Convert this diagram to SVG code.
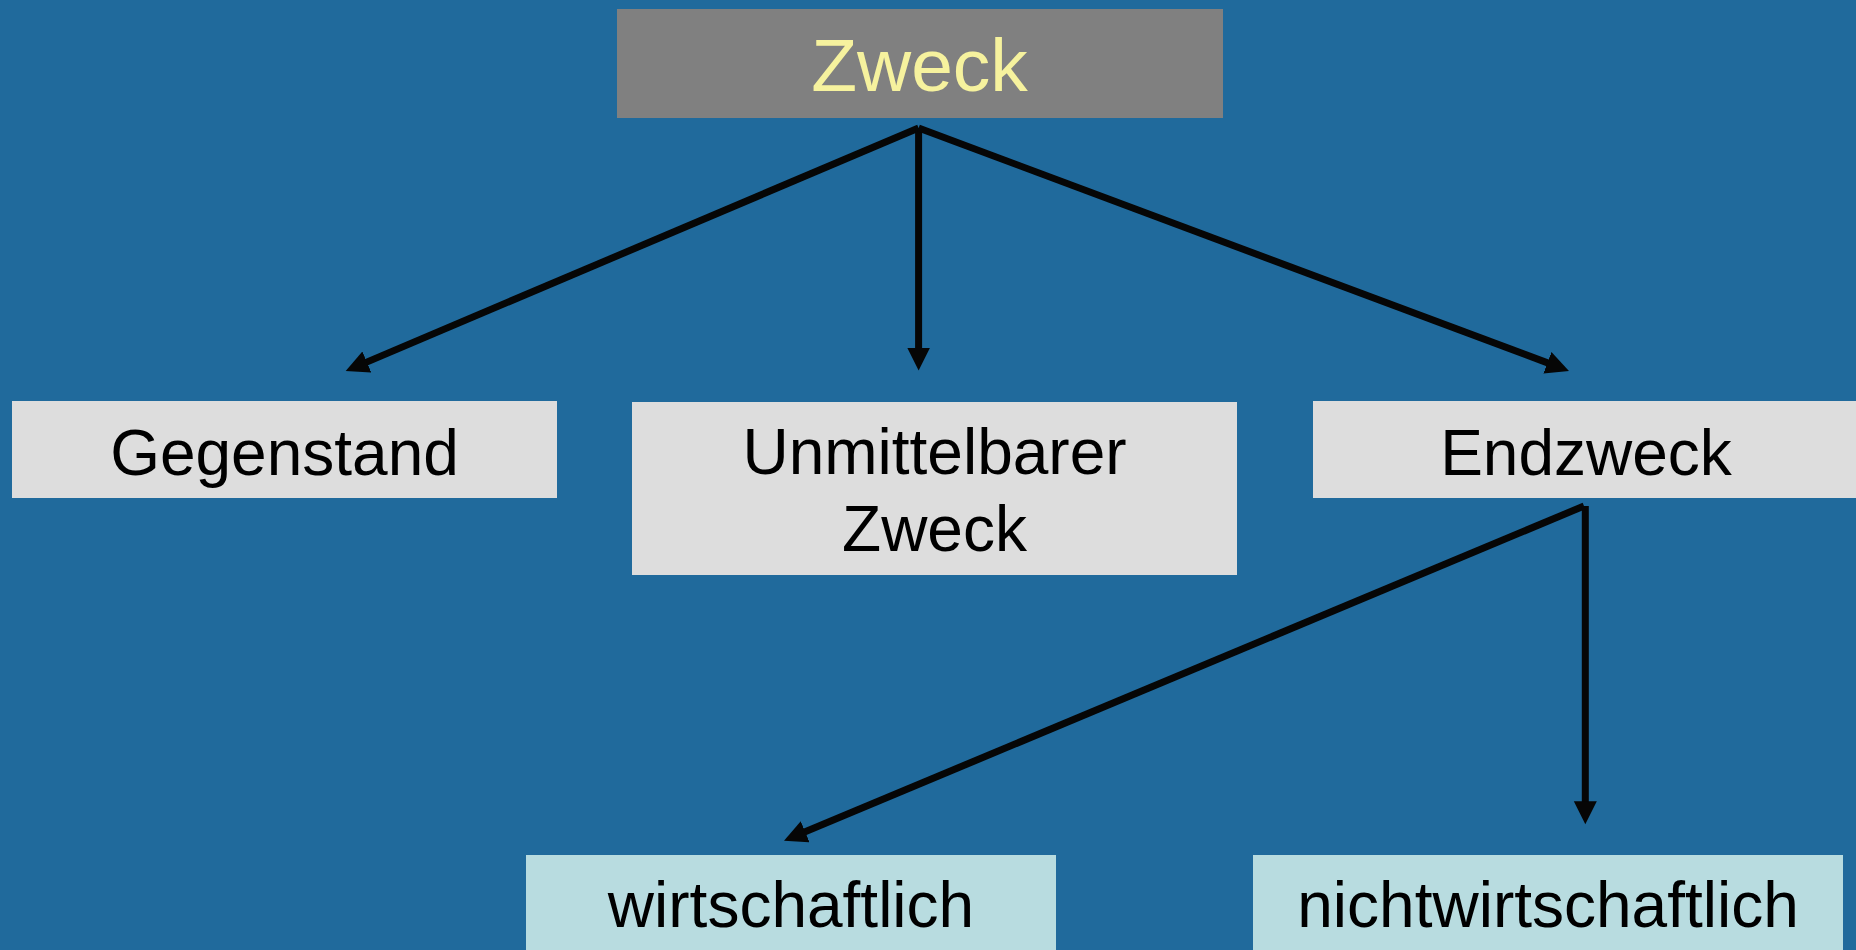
<svg xmlns="http://www.w3.org/2000/svg" width="1856" height="950" viewBox="0 0 1856 950">
  <style>
    .t { font-family: "Liberation Sans", Arial, sans-serif; font-size: 64px; fill: #000; text-anchor: middle; }
    .top { font-size: 75px; fill: #f6f29e; }
    .grey { fill: #dddddd; }
    .blue { fill: #b8dce0; }
    .c { stroke: #060606; stroke-width: 7; fill: none; marker-end: url(#ah); }
  </style>
  <defs>
    <marker id="ah" markerUnits="userSpaceOnUse" markerWidth="24" markerHeight="24" refX="13" refY="11.5" orient="auto">
      <path d="M0,0 L23,11.5 L0,23 z" fill="#060606"/>
    </marker>
  </defs>
  <rect width="1856" height="950" fill="#206a9c"/>

  <g id="connectors">
    <line class="c" x1="918.6" y1="128" x2="354.9" y2="367.1"/>
    <line class="c" x1="918.6" y1="128" x2="918.6" y2="360.5"/>
    <line class="c" x1="918.6" y1="128" x2="1559.6" y2="367.4"/>
    <line class="c" x1="1584" y1="506" x2="793.2" y2="836.8"/>
    <line class="c" x1="1585.3" y1="506" x2="1585.3" y2="814.3"/>
  </g>

  <g id="n-zweck">
    <rect x="617" y="9" width="606" height="109" fill="#808080"/>
    <text class="t top" x="919.5" y="91">Zweck</text>
  </g>
  <g id="n-gegenstand">
    <rect class="grey" x="12" y="401" width="545" height="97"/>
    <text class="t" x="284.5" y="475">Gegenstand</text>
  </g>
  <g id="n-unmittelbarer">
    <rect class="grey" x="632" y="402" width="605" height="173"/>
    <text class="t" x="934.5" y="474">Unmittelbarer</text>
    <text class="t" x="934.5" y="550.5">Zweck</text>
  </g>
  <g id="n-endzweck">
    <rect class="grey" x="1313" y="401" width="545" height="97"/>
    <text class="t" x="1586" y="475">Endzweck</text>
  </g>
  <g id="n-wirtschaftlich">
    <rect class="blue" x="526" y="855" width="530" height="100"/>
    <text class="t" x="791" y="927">wirtschaftlich</text>
  </g>
  <g id="n-nichtwirtschaftlich">
    <rect class="blue" x="1253" y="855" width="590" height="100"/>
    <text class="t" x="1548" y="927">nichtwirtschaftlich</text>
  </g>
</svg>
